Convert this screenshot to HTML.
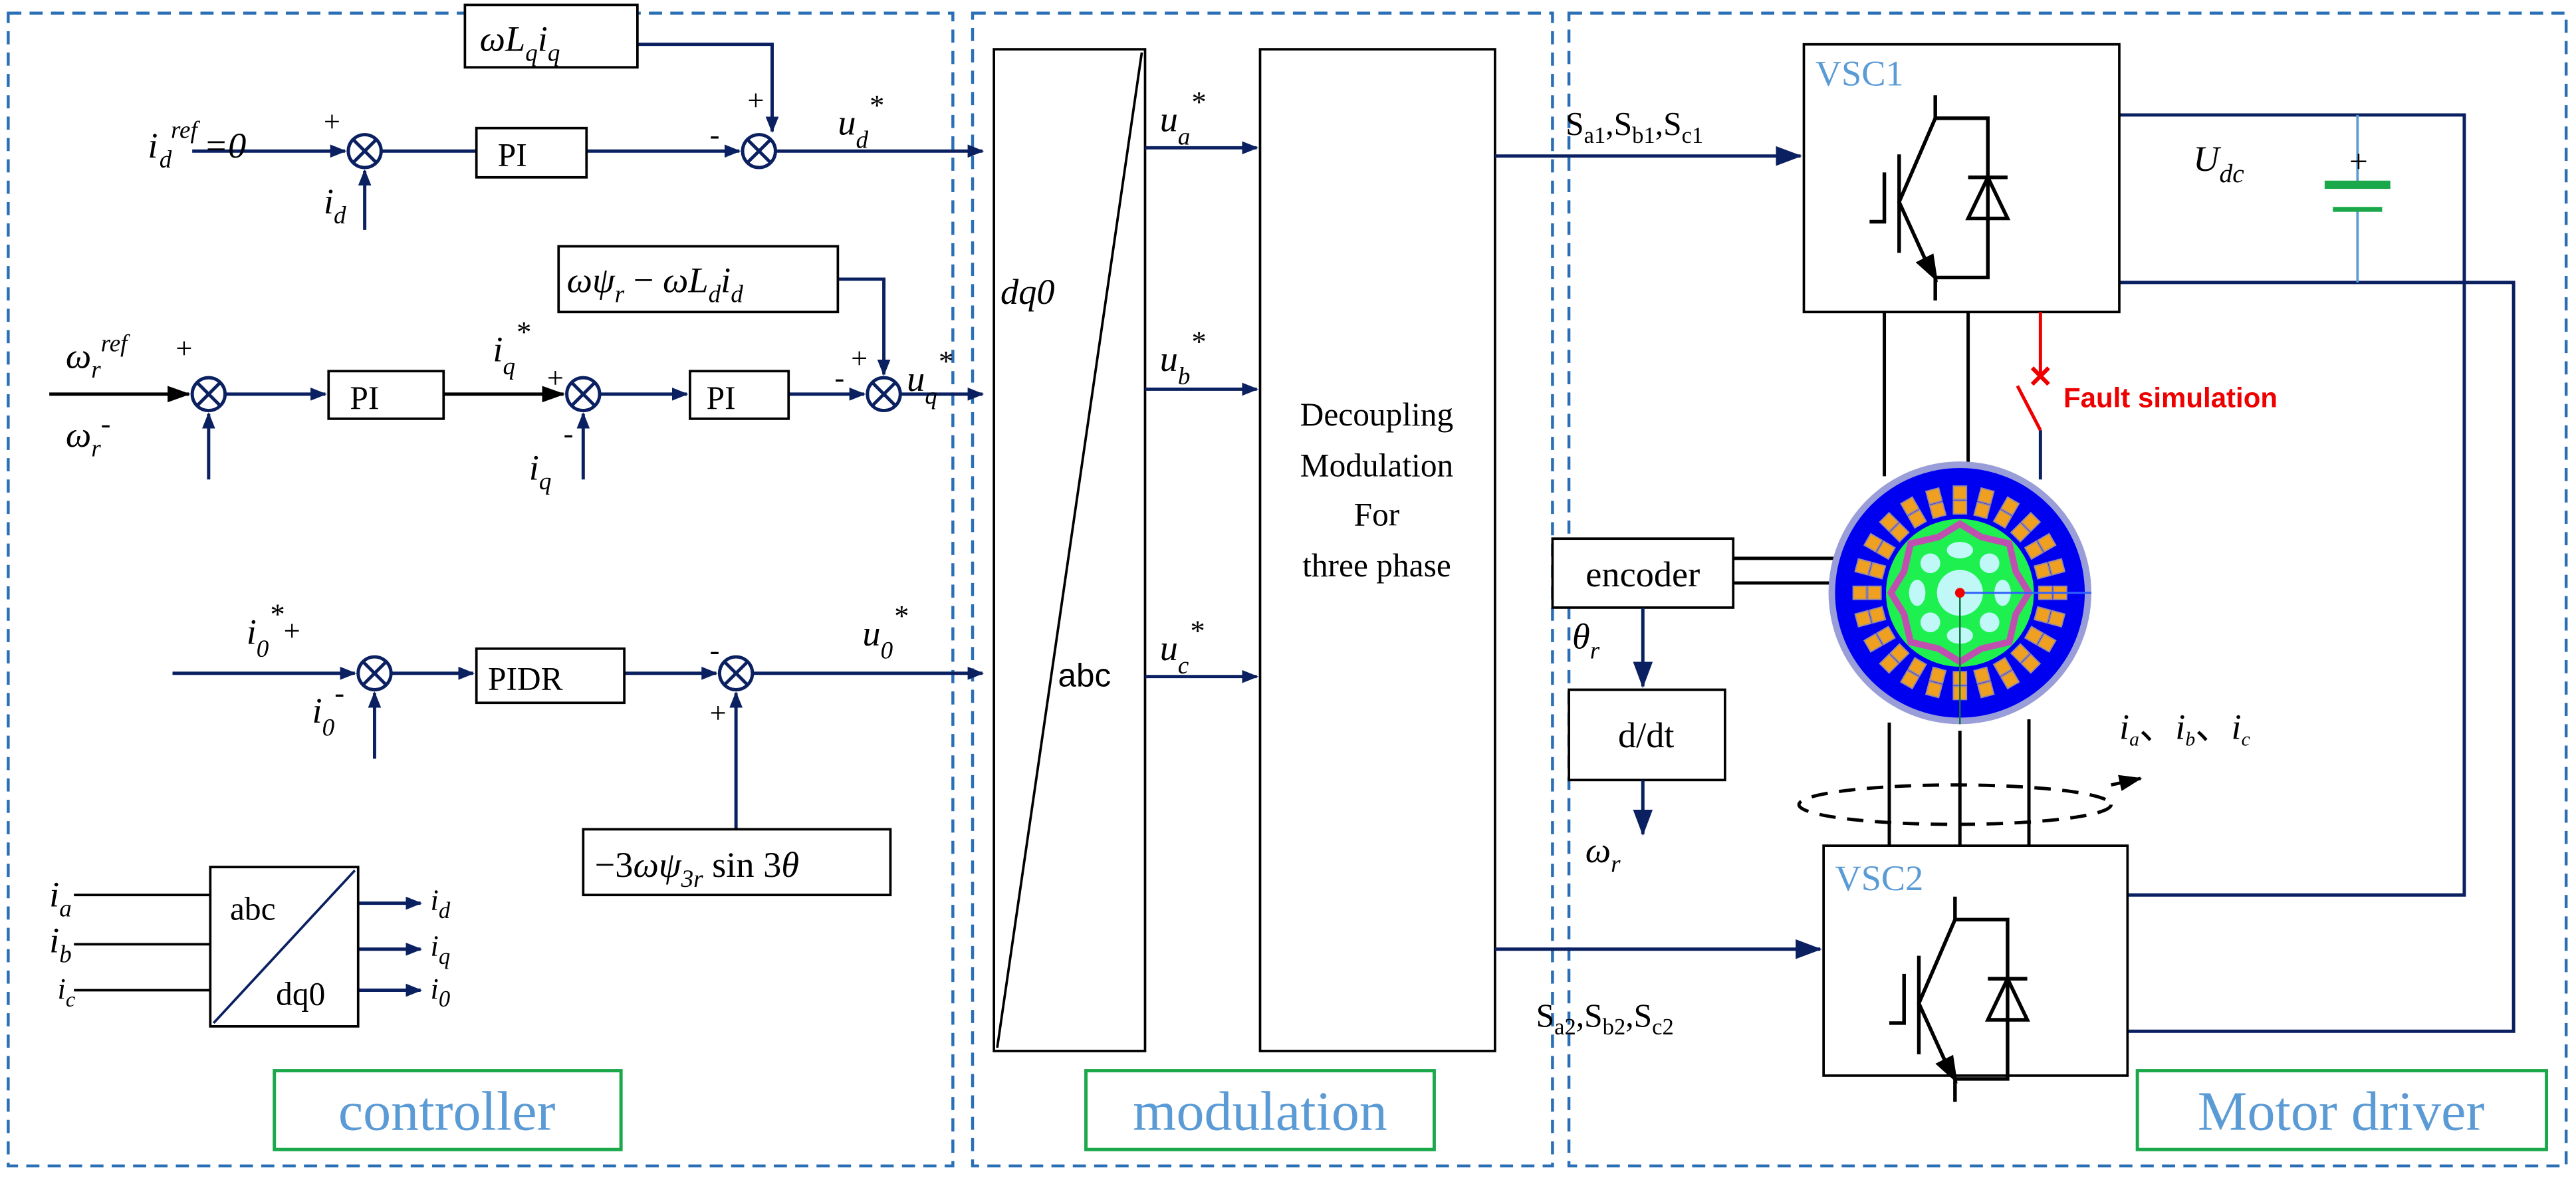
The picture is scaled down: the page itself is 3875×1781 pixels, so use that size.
<!DOCTYPE html>
<html><head><meta charset="utf-8"><style>
html,body{margin:0;padding:0;background:#fff;}
svg{display:block;}
text{font-family:"Liberation Serif",serif;}
.m{font-style:italic;font-size:22px;fill:#000;}
.s{font-family:"Liberation Sans",sans-serif;}
</style></head><body>
<svg width="3875" height="1781" viewBox="0 0 1568 721" preserveAspectRatio="none" xmlns="http://www.w3.org/2000/svg">
<defs>
<marker id="a" markerWidth="10" markerHeight="8" refX="9" refY="4" orient="auto" markerUnits="userSpaceOnUse"><path d="M0,0 L10,4 L0,8z" fill="#0a2060"/></marker>
<marker id="k" markerWidth="14" markerHeight="10" refX="13" refY="5" orient="auto" markerUnits="userSpaceOnUse"><path d="M0,0 L14,5 L0,10z" fill="#000"/></marker>
<marker id="b" markerWidth="16" markerHeight="12" refX="15" refY="6" orient="auto" markerUnits="userSpaceOnUse"><path d="M0,0 L16,6 L0,12z" fill="#0a2060"/></marker>
<g id="sum"><circle r="10" fill="#fff" stroke="#0a2060" stroke-width="2"/><path d="M-7,-7L7,7M-7,7L7,-7" stroke="#0a2060" stroke-width="2"/></g>
<g id="igbt" stroke="#000" stroke-width="2.2" fill="none">
<path d="M1178,58V72H1210V169H1178V183"/>
<path d="M1178,72L1156,123L1176,167"/>
<path d="M1156,94V154"/>
<path d="M1147,105V135H1138"/>
<path d="M1198,108H1222M1210,108L1198,133H1222Z"/>
<path d="M1178,169L1168,160L1176,156Z" fill="#000"/>
</g>
<g id="sl"><rect x="-4" y="-65" width="8" height="8" fill="#f0a020" stroke="#9a8aa0" stroke-width="0.8"/><rect x="-4" y="-56" width="8" height="8" fill="#f0a020" stroke="#9a8aa0" stroke-width="0.8"/></g>
</defs>
<rect width="1568" height="721" fill="#fff"/>
<g fill="none" stroke="#2a6fb5" stroke-width="1.8" stroke-dasharray="8,5">
<rect x="5" y="8" width="575" height="702"/>
<rect x="592" y="8" width="353" height="702"/>
<rect x="955" y="8" width="607" height="702"/>
</g>
<g fill="none" stroke="#1aa84a" stroke-width="2">
<rect x="167" y="652" width="211" height="48"/>
<rect x="661" y="652" width="212" height="48"/>
<rect x="1301" y="652" width="249" height="48"/>
</g>
<g class="s" font-size="34" fill="#5b9bd5" text-anchor="middle">
<text x="272" y="688">controller</text><text x="767" y="688">modulation</text><text x="1425" y="688">Motor driver</text>
</g>

<g stroke="#0a2060" stroke-width="2" fill="none">
<path d="M117,92H210" marker-end="url(#a)"/>
<path d="M232,92H290"/>
<path d="M357,92H450" marker-end="url(#a)"/>
<path d="M388,27H470V80" marker-end="url(#a)"/>
<path d="M472,92H598" marker-end="url(#a)"/>
<path d="M222,140V104" marker-end="url(#a)"/>
<path d="M30,240H115" stroke="#000" marker-end="url(#k)"/>
<path d="M137,240H198" marker-end="url(#a)"/>
<path d="M270,240H343" stroke="#000" marker-end="url(#k)"/>
<path d="M365,240H418" marker-end="url(#a)"/>
<path d="M480,240H526" marker-end="url(#a)"/>
<path d="M510,170H538V228" marker-end="url(#a)"/>
<path d="M548,240H598" marker-end="url(#a)"/>
<path d="M127,292V252" marker-end="url(#a)"/>
<path d="M355,292V252" marker-end="url(#a)"/>
<path d="M105,410H216" marker-end="url(#a)"/>
<path d="M238,410H288" marker-end="url(#a)"/>
<path d="M380,410H436" marker-end="url(#a)"/>
<path d="M448,505V422" marker-end="url(#a)"/>
<path d="M458,410H598" marker-end="url(#a)"/>
<path d="M228,462V422" marker-end="url(#a)"/>
<path d="M218,550H256" marker-end="url(#a)"/>
<path d="M218,578H256" marker-end="url(#a)"/>
<path d="M218,603H256" marker-end="url(#a)"/>
</g>
<use href="#sum" x="222" y="92"/><use href="#sum" x="462" y="92"/>
<use href="#sum" x="127" y="240"/><use href="#sum" x="355" y="240"/><use href="#sum" x="538" y="240"/>
<use href="#sum" x="228" y="410"/><use href="#sum" x="448" y="410"/>
<g fill="#fff" stroke="#000" stroke-width="1.5">
<rect x="290" y="78" width="67" height="30"/>
<rect x="283" y="3" width="105" height="38"/>
<rect x="200" y="226" width="70" height="29"/>
<rect x="420" y="226" width="60" height="29"/>
<rect x="340" y="150" width="170" height="40"/>
<rect x="290" y="395" width="90" height="33"/>
<rect x="355" y="505" width="187" height="40"/>
<rect x="128" y="528" width="90" height="97"/>
</g>
<path d="M130,623L216,530" stroke="#0a2060" stroke-width="1.5"/>
<g stroke="#000" stroke-width="1.5"><path d="M45,545H128M45,575H128M45,603H128"/></g>
<g class="s" font-size="20">
<text x="303" y="101">PI</text><text x="213" y="249">PI</text><text x="430" y="249">PI</text>
<text x="297" y="420">PIDR</text>
<text x="140" y="560">abc</text><text x="168" y="612">dq0</text>
</g>
<g class="m">
<text x="90" y="96">i</text><text x="97" y="102" font-size="15">d</text><text x="104" y="84" font-size="15">ref</text><text x="124" y="96">=0</text>
<text x="197" y="80" font-style="normal" font-size="18">+</text>
<text x="197" y="130">i<tspan font-size="15" dy="6">d</tspan></text>
<text x="292" y="31">ωL<tspan font-size="15" dy="6">q</tspan><tspan dy="-6">i</tspan><tspan font-size="15" dy="6">q</tspan></text>
<text x="455" y="67" font-style="normal" font-size="18">+</text>
<text x="432" y="88" font-style="normal" font-size="18">-</text>
<text x="510" y="82">u<tspan font-size="15" dy="8">d</tspan><tspan font-size="18" dy="-20">*</tspan></text>
<text x="40" y="224">ω<tspan font-size="15" dy="6">r</tspan><tspan font-size="15" dy="-16">ref</tspan></text>
<text x="107" y="218" font-style="normal" font-size="18">+</text>
<text x="40" y="272">ω<tspan font-size="15" dy="6">r</tspan><tspan font-size="18" dy="-14" font-style="normal">-</tspan></text>
<text x="300" y="220">i<tspan font-size="15" dy="8">q</tspan><tspan font-size="18" dy="-20">*</tspan></text>
<text x="333" y="236" font-style="normal" font-size="18">+</text>
<text x="343" y="270" font-style="normal" font-size="18">-</text>
<text x="322" y="292">i<tspan font-size="15" dy="6">q</tspan></text>
<text x="345" y="178">ωψ<tspan font-size="15" dy="6">r</tspan><tspan dy="-6" font-style="normal"> − </tspan>ωL<tspan font-size="15" dy="6">d</tspan><tspan dy="-6">i</tspan><tspan font-size="15" dy="6">d</tspan></text>
<text x="518" y="224" font-style="normal" font-size="18">+</text>
<text x="508" y="236" font-style="normal" font-size="18">-</text>
<text x="552" y="238">u<tspan font-size="15" dy="8">q</tspan><tspan font-size="18" dy="-20">*</tspan></text>
<text x="150" y="392">i<tspan font-size="15" dy="8">0</tspan><tspan font-size="18" dy="-20">*</tspan><tspan font-style="normal" font-size="18" dy="10">+</tspan></text>
<text x="190" y="440">i<tspan font-size="15" dy="8">0</tspan><tspan font-size="18" dy="-20" font-style="normal">-</tspan></text>
<text x="432" y="402" font-style="normal" font-size="18">-</text>
<text x="432" y="440" font-style="normal" font-size="18">+</text>
<text x="525" y="393">u<tspan font-size="15" dy="8">0</tspan><tspan font-size="18" dy="-20">*</tspan></text>
<text x="362" y="534"><tspan font-style="normal">−3</tspan>ωψ<tspan font-size="15" dy="6">3r</tspan><tspan dy="-6" font-style="normal"> sin 3</tspan>θ</text>
<text x="30" y="552">i<tspan font-size="15" dy="6">a</tspan></text>
<text x="30" y="580">i<tspan font-size="15" dy="6">b</tspan></text>
<text x="35" y="608" font-size="18">i<tspan font-size="13" dy="5">c</tspan></text>
<text x="262" y="554" font-size="18">i<tspan font-size="14" dy="5">d</tspan></text>
<text x="262" y="582" font-size="18">i<tspan font-size="14" dy="5">q</tspan></text>
<text x="262" y="608" font-size="18">i<tspan font-size="14" dy="5">0</tspan></text>
</g>

<g fill="#fff" stroke="#000" stroke-width="1.5">
<rect x="605" y="30" width="92" height="610"/>
<rect x="767" y="30" width="143" height="610"/>
</g>
<path d="M607,638L695,32" stroke="#000" stroke-width="1.5"/>
<text x="609" y="185" class="m" font-size="26">dq0</text>
<text x="644" y="418" class="s" font-size="20">abc</text>
<g stroke="#0a2060" stroke-width="2" fill="none">
<path d="M697,90H765" marker-end="url(#a)"/>
<path d="M697,237H765" marker-end="url(#a)"/>
<path d="M697,412H765" marker-end="url(#a)"/>
<path d="M910,95H1096" marker-end="url(#b)"/>
<path d="M910,578H1108" marker-end="url(#b)"/>
</g>
<g class="m">
<text x="706" y="80">u<tspan font-size="15" dy="8">a</tspan><tspan font-size="18" dy="-20">*</tspan></text>
<text x="706" y="226">u<tspan font-size="15" dy="8">b</tspan><tspan font-size="18" dy="-20">*</tspan></text>
<text x="706" y="402">u<tspan font-size="15" dy="8">c</tspan><tspan font-size="18" dy="-20">*</tspan></text>
</g>
<g class="s" font-size="20" text-anchor="middle">
<text x="838" y="259">Decoupling</text><text x="838" y="290">Modulation</text>
<text x="838" y="320">For</text><text x="838" y="351">three phase</text>
</g>

<text x="953" y="82" font-size="20">S<tspan font-size="14" dy="5">a1</tspan><tspan dy="-5">,S</tspan><tspan font-size="14" dy="5">b1</tspan><tspan dy="-5">,S</tspan><tspan font-size="14" dy="5">c1</tspan></text>
<text x="935" y="625" font-size="20">S<tspan font-size="14" dy="5">a2</tspan><tspan dy="-5">,S</tspan><tspan font-size="14" dy="5">b2</tspan><tspan dy="-5">,S</tspan><tspan font-size="14" dy="5">c2</tspan></text>
<g stroke="#0a2060" stroke-width="2" fill="none">
<path d="M1290,70H1500V545H1295"/>
<path d="M1290,172H1530V628H1295"/>
</g>
<path d="M1435,70V113M1435,128V172" stroke="#5b9bd5" stroke-width="1.5"/>
<rect x="1415" y="110" width="40" height="5" fill="#1aa84a"/>
<rect x="1420" y="126" width="30" height="3" fill="#1aa84a"/>
<text x="1430" y="105" font-size="20" fill="#000">+</text>
<text x="1335" y="104" class="m" font-size="26">U<tspan font-size="16" dy="7">dc</tspan></text>
<rect x="1098" y="27" width="192" height="163" fill="#fff" stroke="#000" stroke-width="1.5"/>
<rect x="1110" y="515" width="185" height="140" fill="#fff" stroke="#000" stroke-width="1.5"/>
<text x="1105" y="52" font-size="22" fill="#5b9bd5">VSC1</text>
<text x="1117" y="542" font-size="22" fill="#5b9bd5">VSC2</text>
<use href="#igbt"/>
<use href="#igbt" x="12" y="488"/>
<g stroke="#000" stroke-width="2">
<path d="M1147,190V290M1198,190V283M1150,440V515M1193,445V515M1235,438V515"/>
<path d="M1055,340H1120M1055,355H1118"/>
</g>
<path d="M1242,262V292" stroke="#0a2060" stroke-width="2"/>
<path d="M1242,190V228M1228,235L1242,262" stroke="#e00" stroke-width="2" fill="none"/>
<path d="M1237,224L1247,234M1247,224L1237,234" stroke="#e00" stroke-width="2.5"/>
<text x="1256" y="248" class="s" font-size="17" font-weight="bold" fill="#e00">Fault simulation</text>
<g transform="translate(1193,361)">
<circle r="80" fill="#9a9ed8"/>
<circle r="76" fill="#0000f0"/>
<use href="#sl"/><use href="#sl" transform="rotate(15)"/><use href="#sl" transform="rotate(30)"/><use href="#sl" transform="rotate(45)"/><use href="#sl" transform="rotate(60)"/><use href="#sl" transform="rotate(75)"/><use href="#sl" transform="rotate(90)"/><use href="#sl" transform="rotate(105)"/><use href="#sl" transform="rotate(120)"/><use href="#sl" transform="rotate(135)"/><use href="#sl" transform="rotate(150)"/><use href="#sl" transform="rotate(165)"/><use href="#sl" transform="rotate(180)"/><use href="#sl" transform="rotate(195)"/><use href="#sl" transform="rotate(210)"/><use href="#sl" transform="rotate(225)"/><use href="#sl" transform="rotate(240)"/><use href="#sl" transform="rotate(255)"/><use href="#sl" transform="rotate(270)"/><use href="#sl" transform="rotate(285)"/><use href="#sl" transform="rotate(300)"/><use href="#sl" transform="rotate(315)"/><use href="#sl" transform="rotate(330)"/><use href="#sl" transform="rotate(345)"/>
<circle r="45" fill="#1ef050"/>
<polygon points="0,-42 13,-34 30,-30 34,-13 42,0 34,13 30,30 13,34 0,42 -13,34 -30,30 -34,13 -42,0 -34,-13 -30,-30 -13,-34" fill="none" stroke="#c050b0" stroke-width="4"/>
<g fill="#c0f8f8">
<circle r="14"/>
<ellipse cx="0" cy="-26" rx="8" ry="5"/><ellipse cx="0" cy="26" rx="8" ry="5"/>
<ellipse cx="-26" cy="0" rx="5" ry="8"/><ellipse cx="26" cy="0" rx="5" ry="8"/>
<ellipse cx="-18" cy="-18" rx="6" ry="6"/><ellipse cx="18" cy="-18" rx="6" ry="6"/>
<ellipse cx="-18" cy="18" rx="6" ry="6"/><ellipse cx="18" cy="18" rx="6" ry="6"/>
</g>
<path d="M0,0H80" stroke="#3060ff" stroke-width="1.2"/>
<path d="M0,0V80" stroke="#107040" stroke-width="1"/>
<circle r="3" fill="#e00"/>
</g>
<ellipse cx="1190" cy="490" rx="95" ry="12" fill="none" stroke="#000" stroke-width="2" stroke-dasharray="10,7"/>
<path d="M1285,478L1303,474" stroke="#000" stroke-width="2" marker-end="url(#k)"/>
<text x="1290" y="450" class="m" font-size="16">i<tspan font-size="12" dy="4">a</tspan><tspan dy="-4" font-style="normal">、</tspan>i<tspan font-size="12" dy="4">b</tspan><tspan dy="-4" font-style="normal">、</tspan>i<tspan font-size="12" dy="4">c</tspan></text>
<rect x="945" y="328" width="110" height="42" fill="#fff" stroke="#000" stroke-width="1.5"/>
<text x="1000" y="357" text-anchor="middle" font-size="22">encoder</text>
<rect x="955" y="420" width="95" height="55" fill="#fff" stroke="#000" stroke-width="1.5"/>
<text x="1002" y="455" text-anchor="middle" font-size="22">d/dt</text>
<g stroke="#0a2060" stroke-width="2" fill="none">
<path d="M1000,370V418" marker-end="url(#b)"/>
<path d="M1000,475V508" marker-end="url(#b)"/>
</g>
<text x="957" y="395" class="m">θ<tspan font-size="15" dy="6">r</tspan></text>
<text x="965" y="525" class="m">ω<tspan font-size="15" dy="6">r</tspan></text>
</svg>
</body></html>
